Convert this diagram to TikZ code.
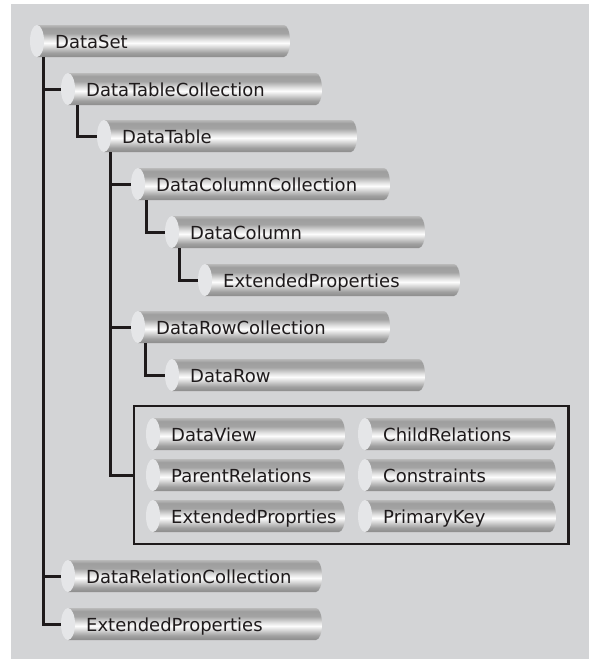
\documentclass[tikz,border=0pt]{standalone}
\usepackage{fontspec}
\setmainfont{DejaVu Sans}
\usetikzlibrary{positioning,fit}

\definecolor{panel}{RGB}{211,212,214}
\definecolor{ink}{RGB}{30,26,27}
\definecolor{capface}{RGB}{229,230,232}
\pgfdeclareverticalshading{tubeshade}{100bp}{color(0bp)=(black!45); color(25bp)=(black!45);
  color(32bp)=(black!37); color(43bp)=(black!10); color(47bp)=(black!1); color(52bp)=(black!11);
  color(62bp)=(black!36); color(70bp)=(black!38); color(75bp)=(black!27); color(100bp)=(black!27)}

\begin{document}
\begin{tikzpicture}[x=1pt,y=1pt,
    tubetext/.style={anchor=west,inner sep=0pt,minimum height=32pt,text=ink,
      font=\fontsize{18}{20}\selectfont,text height=18pt,text depth=4pt},
    link/.style={draw=ink,line width=3pt},
    frame/.style={draw=ink,line width=2.4pt,inner sep=12pt}]
  \useasboundingbox (0,0) rectangle (589,-659);
  \fill[white] (0,0) rectangle (589,-659);
  \fill[panel] (11,-4) rectangle (589,-659);
  % name, left, centre, length, text
  \def\tube#1#2#3#4#5{%
    \shade[shading=tubeshade] (#2+7,-#3+16) -- (#2+#4-6,-#3+16)
      arc[start angle=90,end angle=-90,x radius=6,y radius=16] -- (#2+7,-#3-16) -- cycle;
    \fill[capface] (#2+7,-#3) ellipse[x radius=7,y radius=16];
    \node[tubetext] (#1) at (#2,-#3) {\makebox[#4pt][l]{\hspace{25pt}#5}};}
  \tube{dataset}{30}{41}{260}{DataSet}
  \tube{tablecoll}{61}{89}{261}{DataTableCollection}
  \tube{datatable}{97}{136}{260}{DataTable}
  \tube{colcoll}{131}{184}{259}{DataColumnCollection}
  \tube{datacol}{165}{232}{260}{DataColumn}
  \tube{colprops}{198}{280}{262}{ExtendedProperties}
  \tube{rowcoll}{131}{327}{259}{DataRowCollection}
  \tube{datarow}{165}{375}{260}{DataRow}
  \tube{dataview}{146}{434}{199}{DataView}
  \tube{parentrel}{146}{475}{199}{ParentRelations}
  \tube{tableprops}{146}{516}{199}{ExtendedProprties}
  \tube{childrel}{358}{434}{198}{ChildRelations}
  \tube{constraints}{358}{475}{198}{Constraints}
  \tube{primarykey}{358}{516}{198}{PrimaryKey}
  \tube{relcoll}{61}{576}{261}{DataRelationCollection}
  \tube{setprops}{61}{624}{261}{ExtendedProperties}
  \node[frame,fit=(dataview)(tableprops)(primarykey)] (tablebox) {};
  % tree lines
  \draw[link] (dataset.south west) ++(13,0) |- (tablecoll.west);
  \draw[link] (dataset.south west) ++(13,0) |- (relcoll.west);
  \draw[link] (dataset.south west) ++(13,0) |- (setprops.west);
  \draw[link] (tablecoll.south west) ++(16,0) |- (datatable.west);
  \draw[link] (datatable.south west) ++(13,0) |- (colcoll.west);
  \draw[link] (datatable.south west) ++(13,0) |- (rowcoll.west);
  \draw[link] (datatable.south west) ++(13,0) |- (tablebox.west);
  \draw[link] (colcoll.south west) ++(15,0) |- (datacol.west);
  \draw[link] (datacol.south west) ++(14,0) |- (colprops.west);
  \draw[link] (rowcoll.south west) ++(14,0) |- (datarow.west);
\end{tikzpicture}
\end{document}
